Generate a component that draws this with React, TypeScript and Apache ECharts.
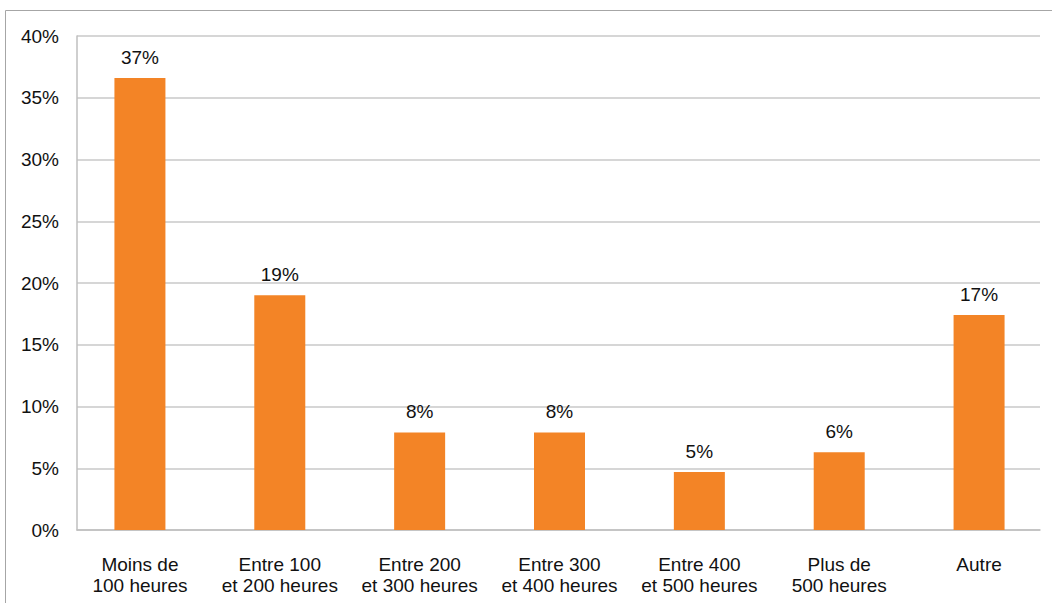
import React, { useEffect, useRef } from "react";
import * as echarts from "echarts";

const categories = [
  "Moins de\n100 heures",
  "Entre 100\net 200 heures",
  "Entre 200\net 300 heures",
  "Entre 300\net 400 heures",
  "Entre 400\net 500 heures",
  "Plus de\n500 heures",
  "Autre",
];
const values = [36.6, 19.0, 7.9, 7.9, 4.7, 6.3, 17.4];
const yTicks = { min: 0, max: 40, interval: 5 };

export default function App() {
  const ref = useRef<HTMLDivElement>(null);
  useEffect(() => {
    if (!ref.current) return;
    const chart = echarts.init(ref.current, undefined, { renderer: "svg" });
    const font = "'Liberation Sans', Arial, sans-serif";
    chart.setOption({
      animation: false,
      backgroundColor: "#ffffff",
      graphic: [
        {
          type: "rect",
          shape: { x: 5.5, y: 10.5, width: 1100, height: 700 },
          style: { fill: "none", stroke: "#a6a6a6", lineWidth: 1 },
          silent: true,
        },
      ],
      grid: [
        { left: 77, right: 12, top: 36, bottom: 73, containLabel: false },
        { left: 70, right: 3, top: 36, bottom: 73, containLabel: false },
      ],
      xAxis: [
        {
          type: "category",
          gridIndex: 0,
          data: categories,
          axisLine: { show: true, lineStyle: { color: "#bfbfbf", width: 1.5 } },
          axisTick: { show: false },
          axisLabel: { show: false },
        },
        {
          type: "category",
          gridIndex: 1,
          data: categories,
          axisLine: { show: false },
          axisTick: { show: false },
          axisLabel: {
            color: "#111111",
            fontSize: 19,
            fontFamily: font,
            lineHeight: 21,
            margin: 24,
            interval: 0,
          },
        },
      ],
      yAxis: [
        {
          type: "value",
          gridIndex: 0,
          min: yTicks.min,
          max: yTicks.max,
          interval: yTicks.interval,
          axisLine: { show: true, lineStyle: { color: "#bfbfbf", width: 1.5 } },
          axisTick: { show: false },
          splitLine: { show: true, lineStyle: { color: "#c8c8c8", width: 1.5 } },
          axisLabel: {
            formatter: "{value}%",
            color: "#111111",
            fontSize: 19,
            fontFamily: font,
            margin: 18,
          },
        },
        {
          type: "value",
          gridIndex: 1,
          min: yTicks.min,
          max: yTicks.max,
          interval: yTicks.interval,
          show: false,
        },
      ],
      series: [
        {
          type: "bar",
          xAxisIndex: 1,
          yAxisIndex: 1,
          data: values,
          barWidth: 51,
          itemStyle: { color: "#f38426" },
          label: {
            show: true,
            position: "top",
            distance: 11,
            color: "#111111",
            fontSize: 19,
            fontFamily: font,
            formatter: (p: any) => Math.round(p.value) + "%",
          },
        },
      ],
    });
    return () => chart.dispose();
  }, []);
  return (
    <div
      ref={ref}
      style={{ position: "fixed", left: 0, top: 0, width: 1052, height: 603 }}
    />
  );
}
